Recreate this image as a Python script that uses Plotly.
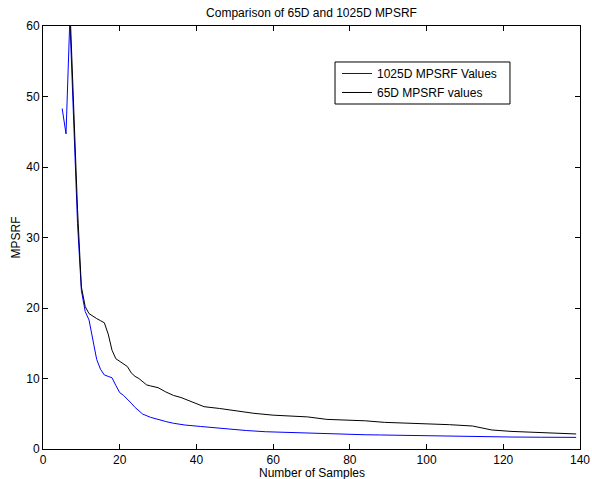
import plotly.graph_objects as go

# 1025D MPSRF values (blue)
x_1025 = [5, 6, 7, 8, 9, 10, 11, 12, 13, 14, 15, 16, 17, 18, 19, 20, 21, 22, 23, 24, 25, 26,
          28, 30, 32, 34, 37, 41, 44, 48, 53, 58, 62, 66, 70, 75, 79, 84, 88, 92, 96, 100,
          105, 110, 114, 118, 122, 130, 139]
y_1025 = [48.3, 44.7, 61.0, 46.5, 32.0, 22.5, 19.5, 18.3, 15.3, 12.7, 11.3, 10.5, 10.3, 10.1,
          9.0, 8.0, 7.6, 7.1, 6.5, 5.9, 5.4, 4.95, 4.5, 4.15, 3.9, 3.65, 3.4, 3.2, 3.03, 2.85,
          2.62, 2.45, 2.37, 2.28, 2.2, 2.13, 2.08, 2.02, 1.99, 1.95, 1.9, 1.85, 1.8, 1.78,
          1.77, 1.73, 1.7, 1.67, 1.65]

# 65D MPSRF values (black)
x_65 = [7, 8, 9, 10, 11, 12, 13, 14, 15, 16, 17, 18, 19, 20, 21, 22, 23, 24, 25, 26, 27, 28,
        30, 32, 34, 36, 38, 40, 42, 46, 50, 55, 60, 64, 69, 74, 80, 84, 89, 95, 100, 106,
        112, 115, 117, 122, 126, 131, 135, 139]
y_65 = [63.0, 48.0, 34.0, 23.0, 20.2, 19.2, 18.8, 18.5, 18.2, 17.9, 16.3, 14.0, 12.8, 12.4,
        12.0, 11.7, 10.8, 10.3, 10.0, 9.6, 9.1, 8.95, 8.7, 8.1, 7.6, 7.3, 6.9, 6.5, 6.0, 5.75,
        5.43, 5.06, 4.8, 4.65, 4.55, 4.2, 4.1, 4.0, 3.78, 3.7, 3.6, 3.45, 3.26, 2.95, 2.7,
        2.5, 2.4, 2.3, 2.2, 2.13]

FONT = "Liberation Sans, Arial, Helvetica, sans-serif"
W, H = 592, 479

fig = go.Figure()
fig.add_trace(go.Scatter(x=x_1025, y=y_1025, mode="lines", name="1025D MPSRF Values",
                         line=dict(color="#0000ff", width=1)))
fig.add_trace(go.Scatter(x=x_65, y=y_65, mode="lines", name="65D MPSRF values",
                         line=dict(color="#000000", width=1)))

axis_common = dict(showline=True, linecolor="black", linewidth=1, mirror="ticks",
                   ticks="inside", ticklen=5, tickcolor="black", showgrid=False,
                   zeroline=False, automargin=False,
                   tickfont=dict(family=FONT, size=12, color="black"))

# legend frame (drawn as a box in paper coordinates)
fig.add_shape(type="rect", xref="paper", yref="paper",
              x0=0.5438, x1=0.8696, y0=0.8156, y1=0.9149,
              line=dict(color="black", width=1), fillcolor="rgba(0,0,0,0)", layer="above")

# axis titles as annotations for exact placement
fig.add_annotation(text="Number of Samples", xref="paper", yref="paper",
                   x=0.5, y=-0.0567, xanchor="center", yanchor="middle",
                   showarrow=False, font=dict(family=FONT, size=12, color="black"))
fig.add_annotation(text="MPSRF", xref="paper", yref="paper",
                   x=-0.0521, y=0.5, xanchor="center", yanchor="middle", textangle=-90,
                   showarrow=False, font=dict(family=FONT, size=12, color="black"))

fig.update_layout(
    width=W, height=H,
    margin=dict(l=43, r=12, t=26, b=30, autoexpand=False),
    paper_bgcolor="white", plot_bgcolor="white",
    font=dict(family=FONT, size=12, color="black"),
    title=dict(text="Comparison of 65D and 1025D MPSRF", x=0.5, xanchor="center",
               xref="paper", y=1 - 13 / H, yanchor="middle",
               font=dict(family=FONT, size=12), automargin=False),
    xaxis=dict(range=[0, 140], dtick=20, tick0=0, **axis_common),
    yaxis=dict(range=[0, 60], dtick=10, tick0=0, **axis_common),
    legend=dict(x=0.5475, y=0.922, xanchor="left", yanchor="top",
                borderwidth=0, bgcolor="rgba(0,0,0,0)",
                font=dict(family=FONT, size=12), tracegroupgap=0),
    showlegend=True,
)

fig.write_html("out.html", config={"displayModeBar": False},
               post_script="document.body.style.margin='0';document.body.style.overflow='hidden';")
